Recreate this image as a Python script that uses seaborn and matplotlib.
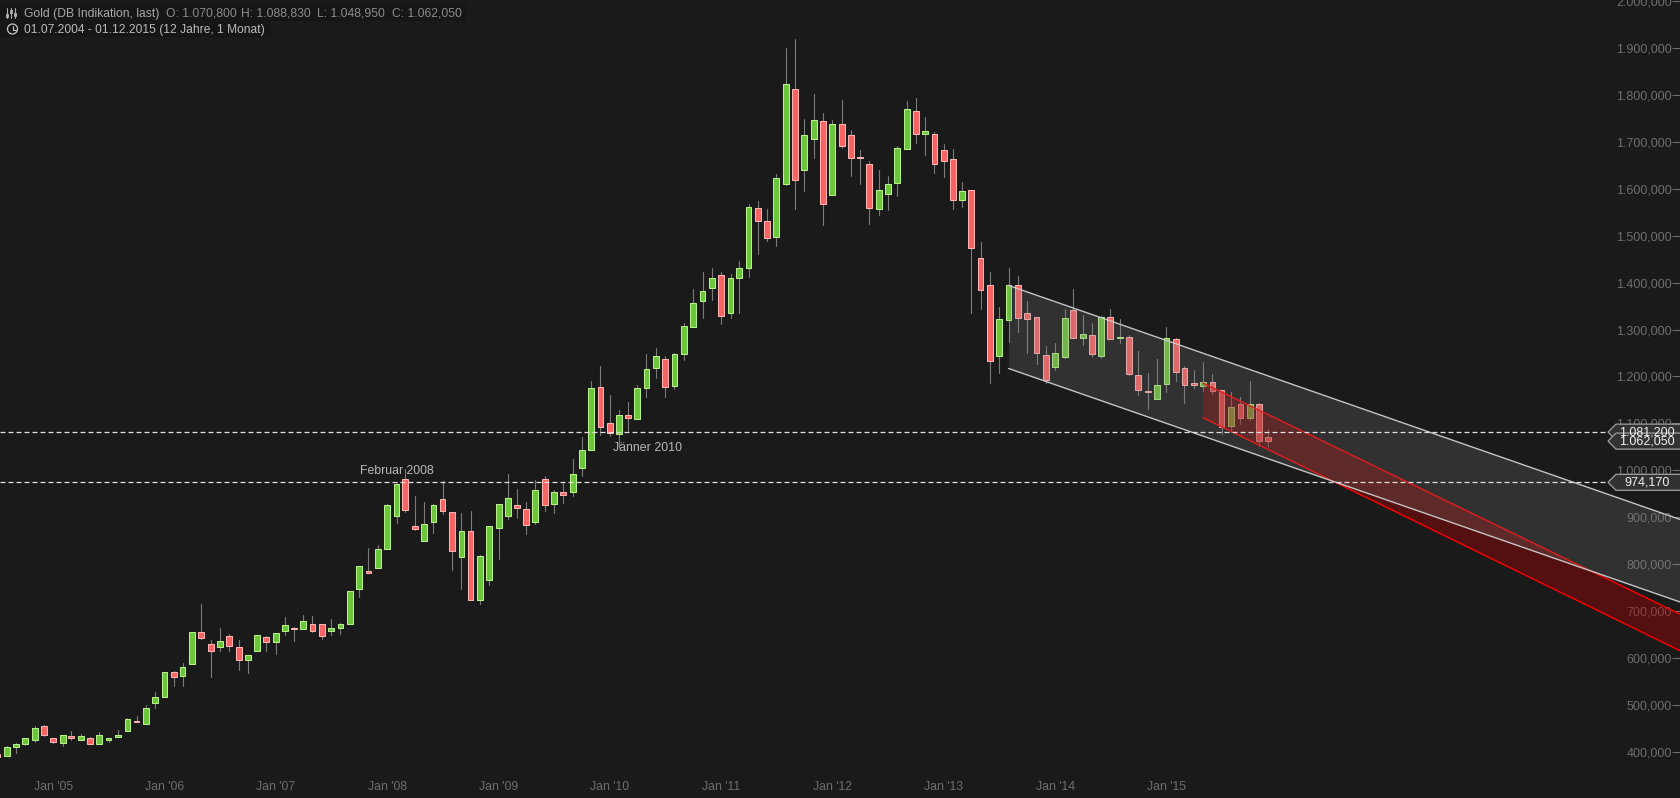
import pandas as pd
import matplotlib
matplotlib.use("Agg")
import matplotlib.pyplot as plt
from matplotlib.patches import Polygon, Circle, Rectangle
import seaborn as sns

# monthly candles, Jul 2004 - Dec 2015, prices in thousands
opens = [394, 391, 409, 417, 425, 454,
         428, 419, 433, 425, 428, 415, 425, 430, 443, 465, 458, 503,
         516, 569, 562, 586, 654, 629, 622, 646, 624, 596, 615, 644,
         634, 657, 664, 662, 671, 671, 656, 664, 671, 746, 785, 792,
         833, 903, 982, 882, 850, 890, 938, 910, 815, 870, 723, 766,
         877, 903, 925, 917, 890, 982, 927, 953, 953, 1005, 1044, 1178,
         1100, 1078, 1117, 1110, 1176, 1218, 1238, 1180, 1248, 1306, 1360, 1389,
         1417, 1336, 1410, 1432, 1559, 1531, 1498, 1611, 1814, 1641, 1707, 1744,
         1586, 1738, 1714, 1668, 1652, 1556, 1590, 1613, 1686, 1766, 1718, 1716,
         1682, 1663, 1577, 1598, 1452, 1394, 1243, 1320, 1394, 1335, 1326, 1245,
         1221, 1241, 1341, 1283, 1288, 1244, 1326, 1281, 1285, 1204, 1169, 1152,
         1183, 1279, 1219, 1187, 1180, 1189, 1172, 1095, 1141, 1112, 1141, 1070.8]
closes = [389, 409, 417, 428, 450, 436,
          421, 435, 428, 433, 415, 435, 428, 435, 469, 464, 493, 516,
          569, 559, 581, 654, 643, 615, 635, 626, 596, 605, 648, 634,
          652, 669, 662, 678, 658, 647, 663, 671, 742, 795, 781, 833,
          925, 971, 916, 875, 885, 925, 912, 828, 870, 723, 816, 880,
          927, 940, 920, 884, 957, 925, 953, 948, 991, 1044, 1176, 1093,
          1080, 1117, 1112, 1176, 1215, 1243, 1178, 1247, 1307, 1356, 1383, 1409,
          1328, 1409, 1432, 1561, 1532, 1496, 1624, 1823, 1619, 1714, 1746, 1567,
          1738, 1692, 1666, 1665, 1560, 1597, 1611, 1688, 1770, 1718, 1723, 1653,
          1660, 1577, 1595, 1474, 1385, 1232, 1322, 1394, 1325, 1322, 1250, 1193,
          1251, 1324, 1283, 1290, 1248, 1326, 1280, 1285, 1206, 1171, 1166, 1181,
          1283, 1210, 1182, 1182, 1189, 1169, 1093, 1134, 1112, 1141, 1063, 1062.05]
highs = [395, 412, 418, 429, 455, 457,
         428, 435, 444, 438, 432, 442, 428, 446, 471, 475, 499, 527,
         569, 571, 589, 654, 715, 638, 664, 650, 638, 605, 648, 646,
         652, 687, 666, 692, 689, 671, 683, 674, 742, 795, 834, 840,
         928, 972, 1003, 945, 933, 928, 976, 910, 909, 913, 820, 880,
         927, 992, 960, 933, 979, 987, 958, 972, 1024, 1070, 1191, 1222,
         1161, 1129, 1146, 1181, 1248, 1261, 1244, 1250, 1315, 1386, 1422, 1431,
         1422, 1418, 1446, 1568, 1575, 1557, 1631, 1900, 1920, 1749, 1802, 1761,
         1747, 1790, 1726, 1683, 1659, 1640, 1627, 1691, 1788, 1794, 1753, 1721,
         1695, 1685, 1614, 1598, 1487, 1422, 1348, 1431, 1415, 1361, 1326, 1265,
         1271, 1344, 1386, 1331, 1314, 1328, 1344, 1323, 1288, 1254, 1207, 1237,
         1305, 1283, 1222, 1213, 1231, 1205, 1172, 1167, 1157, 1190, 1143, 1088.83]
lows = [388, 391, 397, 414, 421, 433,
        418, 412, 425, 425, 415, 415, 421, 430, 443, 462, 458, 493,
        516, 540, 540, 586, 641, 559, 615, 614, 574, 568, 615, 614,
        609, 649, 636, 662, 654, 641, 649, 651, 671, 729, 781, 792,
        833, 888, 910, 872, 850, 867, 907, 788, 747, 723, 714, 755,
        811, 895, 899, 865, 886, 914, 908, 931, 946, 988, 1044, 1076,
        1074, 1050, 1084, 1110, 1157, 1197, 1157, 1173, 1235, 1306, 1325, 1362,
        1311, 1325, 1336, 1412, 1461, 1489, 1478, 1608, 1557, 1596, 1666, 1523,
        1586, 1688, 1628, 1611, 1526, 1545, 1555, 1585, 1686, 1698, 1672, 1633,
        1625, 1557, 1562, 1336, 1344, 1186, 1207, 1274, 1295, 1250, 1227, 1186,
        1214, 1240, 1283, 1267, 1242, 1239, 1280, 1271, 1203, 1161, 1131, 1152,
        1167, 1190, 1144, 1176, 1169, 1163, 1078, 1082, 1099, 1106, 1052, 1048.95]

# trend channels
gray_dates = ['2013-08-01', '2019-08-13']
gray_upper = [1394, 895]
gray_lower = [1217, 719]
red_dates = ['2015-05-01', '2019-08-13']
red_upper = [1186, 693]
red_lower = [1112, 615]

# horizontal levels and axis text
levels = [1081.2, 974.17]
badge_prices = [1081.2, 1062.05, 974.17]
badge_labels = ['1.081,200', '1.062,050', '974,170']
ohlc_labels = ['O: 1.070,800', 'H: 1.088,830', 'L: 1.048,950', 'C: 1.062,050']
y_ticks = list(range(400, 2001, 100))
y_labels = ['400,000', '500,000', '600,000', '700,000', '800,000', '900,000',
            '1.000,000', '1.100,000', '1.200,000', '1.300,000', '1.400,000', '1.500,000',
            '1.600,000', '1.700,000', '1.800,000', '1.900,000', '2.000,000']
x_ticks = ['2005-01-01', '2006-01-01', '2007-01-01', '2008-01-01', '2009-01-01', '2010-01-01',
           '2011-01-01', '2012-01-01', '2013-01-01', '2014-01-01', '2015-01-01']
x_labels = ["Jan '05", "Jan '06", "Jan '07", "Jan '08", "Jan '09", "Jan '10",
            "Jan '11", "Jan '12", "Jan '13", "Jan '14", "Jan '15"]

BG = '#1a1a1a'
GREEN, GREEN_EDGE = '#6cc63c', '#b8f08c'
RED, RED_EDGE = '#f86464', '#ffb4b4'
Y_MIN, Y_MAX = 300.9, 2002.8

sns.set_theme(style='dark', rc={'axes.facecolor': BG, 'figure.facecolor': BG, 'axes.grid': False})
plt.rcParams['font.family'] = ['Liberation Sans', 'DejaVu Sans']

df = pd.DataFrame({'date': pd.date_range('2004-07-01', '2015-12-01', freq='MS'),
                   'open': opens, 'high': highs, 'low': lows, 'close': closes})
df['bottom'] = df[['open', 'close']].min(axis=1)
df['height'] = (df['close'] - df['open']).abs()
up = df['close'] >= df['open']

fig = plt.figure(figsize=(16.8, 7.98), dpi=100)
ax = fig.add_axes([0, 0, 1, 1])

# wicks
wicks = df.melt(id_vars='date', value_vars=['low', 'high'], value_name='price')
sns.lineplot(data=wicks, x='date', y='price', units='date', estimator=None, sort=False,
             color='#7a7a7a', linewidth=0.8, legend=False, ax=ax, zorder=2)

# bodies
for mask, face, edge in [(up, GREEN, GREEN_EDGE), (~up, RED, RED_EDGE)]:
    part = df[mask]
    ax.bar(part['date'], part['height'], bottom=part['bottom'], width=19, color=face,
           edgecolor=edge, linewidth=0.75, zorder=3)

# red channel goes under the gray one
red_x = pd.to_datetime(red_dates)
ax.fill_between(red_x, red_lower, red_upper, color='#b30000', alpha=0.38, linewidth=0, zorder=4)
for vals in (red_upper, red_lower):
    sns.lineplot(x=red_x, y=vals, color='#ff0000', linewidth=1.0, legend=False, ax=ax, zorder=5)

gray_x = pd.to_datetime(gray_dates)
ax.fill_between(gray_x, gray_lower, gray_upper, color='#808080', alpha=0.23, linewidth=0, zorder=6)
for vals in (gray_upper, gray_lower):
    sns.lineplot(x=gray_x, y=vals, color='#c4c4c4', linewidth=1.0, legend=False, ax=ax, zorder=7)

for level in levels:
    ax.axhline(level, xmax=1608 / 1680, color='#e0e0e0', linewidth=0.9, dashes=(4, 2.4), zorder=8)

ax.text(pd.Timestamp('2008-02-01'), 998, 'Februar 2008', color='#b8b8b8', fontsize=8.8,
        ha='center', va='center', zorder=9)
ax.text(pd.Timestamp('2010-01-12'), 1048, 'Jänner 2010', color='#b8b8b8', fontsize=8.9,
        ha='left', va='center', zorder=9)

ax.set_xlim(pd.Timestamp('2004-07-10'), pd.Timestamp('2019-08-13'))
ax.set_ylim(Y_MIN, Y_MAX)
ax.set(xlabel=None, ylabel=None)
ax.set_xticks(pd.to_datetime(x_ticks))
ax.set_xticklabels(x_labels, color='#6e6e6e', fontsize=8.8)
ax.set_yticks(y_ticks)
ax.set_yticklabels(y_labels, color='#6e6e6e', fontsize=9, ha='right')
ax.yaxis.tick_right()
ax.tick_params(axis='y', direction='in', length=5.5, width=0.8, color='#6e6e6e', pad=-6)
ax.tick_params(axis='x', direction='in', length=3.6, width=0.8, color='#6e6e6e', pad=-12.3)
sns.despine(ax=ax, left=True, right=True, top=True, bottom=True)

# overlay in pixels for the header and the price badges
over = fig.add_axes([0, 0, 1, 1], facecolor='none')
over.set_xlim(0, 1680)
over.set_ylim(798, 0)
over.axis('off')


def badge(price, label):
    yc = (Y_MAX - price) / (Y_MAX - Y_MIN) * 798
    points = [(1680, yc - 8), (1616, yc - 8), (1608, yc), (1616, yc + 8), (1680, yc + 8)]
    over.add_patch(Polygon(points, closed=False, facecolor='#323232', edgecolor='#a0a0a0', linewidth=0.9))
    over.text(1647, yc, label, color='#f0f0f0', fontsize=9, ha='center', va='center')


for price, label in zip(badge_prices, badge_labels):
    badge(price, label)

over.add_patch(Rectangle((0, 4), 466, 17, facecolor='#161616', edgecolor='none'))
over.add_patch(Rectangle((0, 21), 271, 16, facecolor='#161616', edgecolor='none'))
over.text(24, 13.7, 'Gold (DB Indikation, last)', color='#a8a8a8', fontsize=8.7, ha='left', va='center')
for x, label in zip([165.7, 241.3, 317.3, 391.7], ohlc_labels):
    over.text(x, 13.7, label, color='#8c8c8c', fontsize=8.7, ha='left', va='center')
over.text(24, 29.7, '01.07.2004 - 01.12.2015 (12 Jahre, 1 Monat)', color='#bcbcbc', fontsize=8.65,
          ha='left', va='center')

# little icons
for x, y_knob in [(7, 15), (11, 11), (15, 14)]:
    over.plot([x, x], [8, 18], color='#b0b0b0', linewidth=0.8)
    over.add_patch(Rectangle((x - 1.3, y_knob - 1.5), 2.6, 3, facecolor=BG, edgecolor='#b0b0b0', linewidth=0.7))
over.add_patch(Circle((12.5, 29), 5, facecolor='none', edgecolor='#c8c8c8', linewidth=0.9))
over.plot([12.5, 12.5, 15.5], [25.5, 29.5, 29.5], color='#c8c8c8', linewidth=0.8)

fig.savefig('out.png', dpi=100, facecolor=BG)
